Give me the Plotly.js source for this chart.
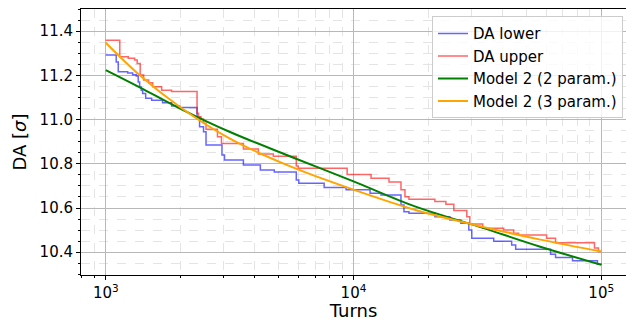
<!DOCTYPE html>
<html>
<head>
<meta charset="utf-8">
<script src="https://cdn.plot.ly/plotly-3.0.1.min.js"></script>
<style>html,body{margin:0;padding:0;background:#fff;}#chart{width:626px;height:321px;}</style>
</head>
<body>
<div id="chart"></div>
<script>
// DA lower (step data)
const lowerTurns = [1000,1102,1123,1226,1284,1327,1352,1370,1390,1409,1449,1532,1696,1844,1986,2336,2391,2481,2539,2945,3015,3594,4207,4789,5875,6014,7613,9337,11664,12915,15546,15984,16743,21306,24484,27114,29203,30020,36819,43497,45146,62447,65406,76574,96543,100000];
const lowerDA = [11.292,11.260,11.216,11.210,11.203,11.197,11.170,11.147,11.133,11.118,11.096,11.087,11.076,11.061,11.054,11.009,10.968,10.945,10.885,10.840,10.817,10.795,10.772,10.763,10.727,10.712,10.693,10.682,10.667,10.659,10.614,10.583,10.576,10.561,10.546,10.531,10.501,10.463,10.450,10.433,10.413,10.391,10.376,10.361,10.346,10.343];
// DA upper (step data)
const upperTurns = [1000,1139,1232,1308,1339,1377,1422,1490,1546,1681,1844,2336,2368,2424,2481,2539,2824,2931,3594,4130,4746,5875,5983,9425,11772,13910,15546,16134,16743,21306,23597,25410,28666,29475,33245,40391,44314,46416,60174,65406,93900,97440,100000];
const upperDA = [11.359,11.284,11.277,11.269,11.254,11.201,11.179,11.166,11.148,11.133,11.127,11.028,11.013,11.002,10.983,10.956,10.922,10.892,10.867,10.844,10.834,10.790,10.780,10.752,10.734,10.718,10.682,10.651,10.640,10.629,10.617,10.589,10.561,10.528,10.508,10.501,10.486,10.478,10.463,10.443,10.419,10.403,10.403];
// Model curves
const modelTurns = [1000,1371,1986,3157,5592,10056,17813,32030,56750,100000];
const model2p = [11.224,11.146,11.051,10.945,10.832,10.719,10.606,10.516,10.425,10.343];
const model3p = [11.347,11.200,11.058,10.915,10.787,10.682,10.591,10.519,10.457,10.403];
// Axis ticks
const xTickVals = [1000,10000,100000];
const xTickText = ['10<sup>3</sup>','10<sup>4</sup>','10<sup>5</sup>'];
const xMinorVals = [800,900,2000,3000,4000,5000,6000,7000,8000,9000,20000,30000,40000,50000,60000,70000,80000,90000];

const font = 'DejaVu Sans, sans-serif';
const traces = [
  {x: lowerTurns, y: lowerDA, name: 'DA lower', mode: 'lines', line: {shape: 'hv', color: 'rgba(0,0,255,0.6)', width: 1.5}},
  {x: upperTurns, y: upperDA, name: 'DA upper', mode: 'lines', line: {shape: 'hv', color: 'rgba(255,0,0,0.6)', width: 1.5}},
  {x: modelTurns, y: model2p, name: 'Model 2 (2 param.)', mode: 'lines', line: {shape: 'spline', color: '#008000', width: 2}},
  {x: modelTurns, y: model3p, name: 'Model 2 (3 param.)', mode: 'lines', line: {shape: 'spline', color: '#ffa500', width: 2}}
];
const layout = {
  width: 626, height: 321,
  margin: {l: 81, r: 0, t: 9, b: 46},
  paper_bgcolor: '#fff', plot_bgcolor: '#fff',
  font: {family: font, color: '#000', size: 15},
  showlegend: true,
  legend: {x: 0.9945, xanchor: 'right', y: 0.9726, yanchor: 'top', bgcolor: 'rgba(255,255,255,0.8)', bordercolor: '#cccccc', borderwidth: 1, font: {family: font, size: 15, color: '#000'}},
  xaxis: {
    type: 'log', range: [2.9, 5.1],
    tickmode: 'array', tickvals: xTickVals, ticktext: xTickText,
    ticks: 'outside', ticklen: 4, tickwidth: 1, tickcolor: '#000',
    showline: true, linecolor: '#000', linewidth: 1, mirror: true,
    showgrid: true, gridcolor: '#b8b8b8', gridwidth: 1,
    zeroline: false,
    tickfont: {family: font, size: 15},
    title: {text: 'Turns', font: {family: font, size: 18}, standoff: 6},
    minor: {tickmode: 'array', tickvals: xMinorVals, ticks: 'outside', ticklen: 2, tickcolor: '#000', showgrid: true, gridcolor: '#e4e4e4', griddash: 'dash', gridwidth: 1},
    automargin: false
  },
  yaxis: {
    range: [10.297, 11.5],
    tick0: 10.4, dtick: 0.2, tickformat: '.1f',
    ticks: 'outside', ticklen: 4, tickwidth: 1, tickcolor: '#000',
    showline: true, linecolor: '#000', linewidth: 1, mirror: true,
    showgrid: true, gridcolor: '#b8b8b8', gridwidth: 1,
    zeroline: false,
    tickfont: {family: font, size: 15},
    title: {text: 'DA [<i>σ</i>]', font: {family: font, size: 18}, standoff: 8},
    minor: {dtick: 0.05, tick0: 10.4, ticks: 'outside', ticklen: 2, tickcolor: '#000', showgrid: true, gridcolor: '#e4e4e4', griddash: 'dash', gridwidth: 1},
    automargin: false
  }
};
Plotly.newPlot('chart', traces, layout, {displayModeBar: false, staticPlot: true});
</script>
</body>
</html>
